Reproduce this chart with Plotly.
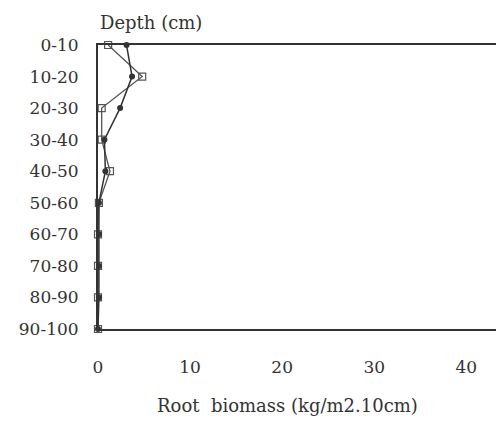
import plotly.graph_objects as go

depths = ["0-10", "10-20", "20-30", "30-40", "40-50", "50-60", "60-70", "70-80", "80-90", "90-100"]
series_open = [1.1, 4.8, 0.4, 0.4, 1.3, 0.1, 0.0, 0.0, 0.0, 0.0]
series_filled = [3.1, 3.7, 2.4, 0.7, 0.8, 0.1, 0.1, 0.1, 0.1, 0.0]
x_ticks = [0, 10, 20, 30, 40]

FONT = "DejaVu Serif"
INK = "#333333"

fig = go.Figure()
fig.add_trace(go.Scatter(
    x=series_open, y=depths, mode="lines+markers", cliponaxis=False,
    line=dict(color="#555555", width=1.3),
    marker=dict(symbol="square-open", size=7, color="#555555", line=dict(width=1.2)),
    showlegend=False))
fig.add_trace(go.Scatter(
    x=series_filled, y=depths, mode="lines+markers", cliponaxis=False,
    line=dict(color=INK, width=1.5),
    marker=dict(symbol="circle", size=6, color=INK),
    showlegend=False))

fig.update_layout(
    width=496, height=423,
    margin=dict(l=90, r=0, t=37, b=102),
    paper_bgcolor="white", plot_bgcolor="white",
    font=dict(family=FONT, size=17, color=INK),
    xaxis=dict(range=[0, 44.1], tickvals=x_ticks, ticktext=[str(v) for v in x_ticks],
               showgrid=False, zeroline=False, showline=True, linecolor=INK, linewidth=2,
               mirror=True, ticks="", ticklabelstandoff=22,
               tickfont=dict(family=FONT, size=17, color=INK)),
    yaxis=dict(type="category", categoryorder="array", categoryarray=depths,
               range=[9, 0], showgrid=False, zeroline=False, showline=True,
               linecolor=INK, linewidth=2, ticks="", ticklabelstandoff=14,
               tickfont=dict(family=FONT, size=17, color=INK)),
    annotations=[
        dict(text="Depth (cm)", xref="paper", yref="paper", x=0, y=1, xanchor="left",
             yanchor="bottom", yshift=10, showarrow=False,
             font=dict(family=FONT, size=18, color=INK)),
        dict(text="Root  biomass (kg/m2.10cm)", x=20.6, xref="x", yref="paper", y=0,
             xanchor="center", yanchor="middle", yshift=-76, showarrow=False,
             font=dict(family=FONT, size=18, color=INK)),
    ],
)

fig.write_html("out.html")
